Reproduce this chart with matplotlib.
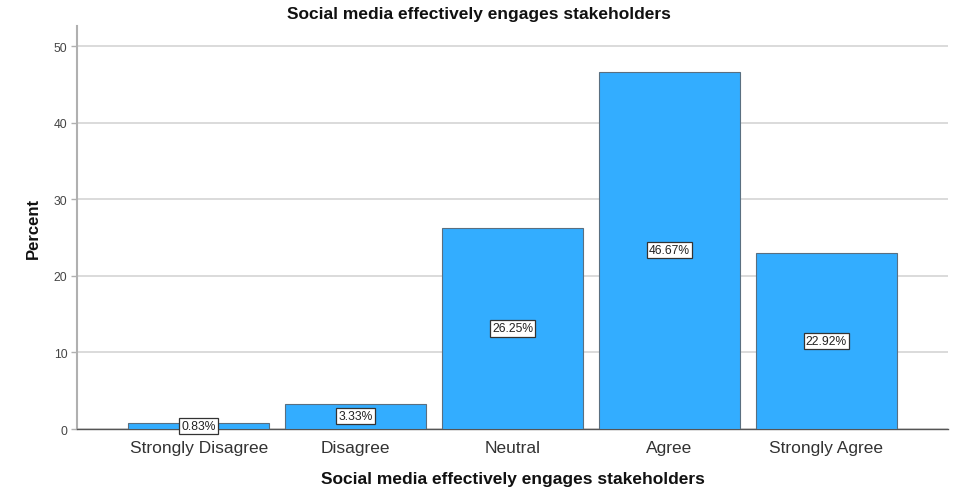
import matplotlib
matplotlib.use("Agg")
import matplotlib.pyplot as plt

plt.rcParams["font.family"] = ["Liberation Sans", "DejaVu Sans"]

categories = ["Strongly Disagree", "Disagree", "Neutral", "Agree", "Strongly Agree"]
percent = [0.83, 3.33, 26.25, 46.67, 22.92]
yticks = [0, 10, 20, 30, 40, 50]

BAR = "#33adff"
EDGE = "#5a6f80"
GRID = "#d4d4d4"
INK = "#222222"

fig = plt.figure(figsize=(9.58, 5.02), dpi=100)
ax = fig.add_axes([0.0804, 0.1434, 0.9092, 0.8026])

x = list(range(len(categories)))
ax.bar(x, percent, width=0.9, color=BAR, edgecolor=EDGE, linewidth=0.8, zorder=3)

# value labels sit halfway up each bar in a small boxed tag
for xi, v in zip(x, percent):
    ax.text(xi, v / 2, f"{v:.2f}%", ha="center", va="center", fontsize=8.7,
            color=INK, zorder=4,
            bbox=dict(boxstyle="square,pad=0.18", facecolor="white",
                      edgecolor="#333333", linewidth=0.9))

ax.set_xlim(-0.775, 4.775)
ax.set_ylim(0, 52.6)
ax.set_yticks(yticks)
ax.set_yticklabels([str(t) for t in yticks], fontsize=8.7, color="#444444")
ax.set_xticks(x)
ax.set_xticklabels(categories, fontsize=12.5, color="#333333")
ax.tick_params(axis="x", length=0, pad=8)
ax.tick_params(axis="y", length=4, width=1, color="#b0b0b0", pad=3)

ax.yaxis.grid(True, color=GRID, linewidth=1.2, zorder=0)
ax.set_axisbelow(True)
for side in ("top", "right"):
    ax.spines[side].set_visible(False)
ax.spines["left"].set_color("#b0b0b0")
ax.spines["left"].set_linewidth(1.5)
ax.spines["bottom"].set_color("#555555")
ax.spines["bottom"].set_linewidth(1.0)

ax.set_ylabel("Percent", fontsize=12, fontweight="bold", color="#111111")
ax.yaxis.set_label_coords(-0.0505, 0.5)
ax.yaxis.label.set_va("center")
ax.set_xlabel("Social media effectively engages stakeholders", fontsize=12.5,
              fontweight="bold", color="#111111")
ax.xaxis.set_label_coords(0.5, -0.124)
ax.xaxis.label.set_va("center")
fig.text(0.5, 1 - 14 / 502, "Social media effectively engages stakeholders",
         ha="center", va="center", fontsize=12.5, fontweight="bold", color="#111111")

fig.savefig("out.png", dpi=100, facecolor="white")
